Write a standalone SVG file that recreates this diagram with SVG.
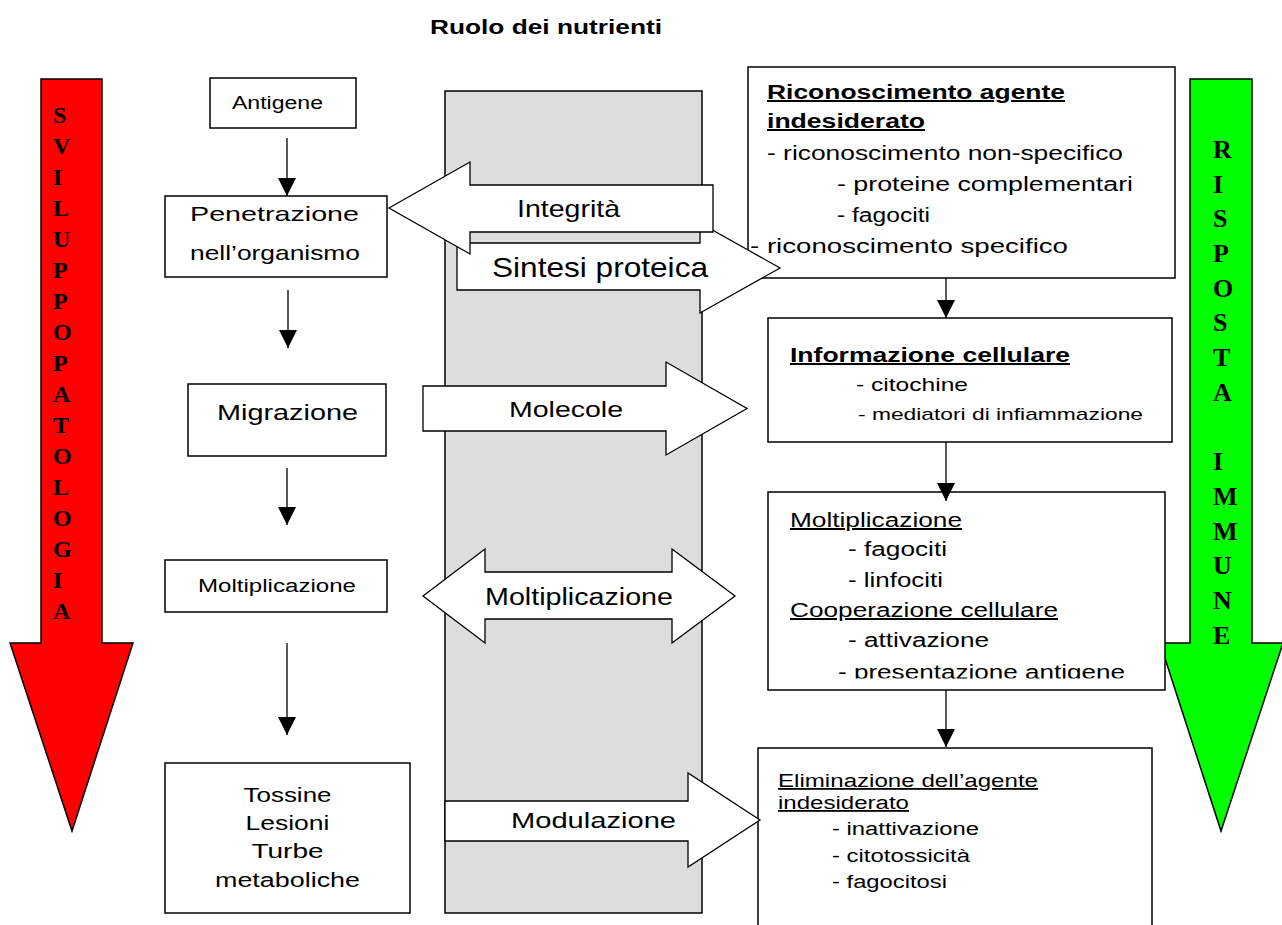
<svg xmlns="http://www.w3.org/2000/svg" width="1282" height="925" viewBox="0 0 1282 925">
<style>
.box{fill:#fff;stroke:#000;stroke-width:1.5}
.big{fill:#fff;stroke:#000;stroke-width:1.3}
.conn{fill:none;stroke:#000;stroke-width:1.3}
text{font-family:"Liberation Sans",Arial,sans-serif;fill:#000}
.b{font-weight:bold}
.u{text-decoration:underline}
.lt{font-family:"Liberation Serif","Times New Roman",serif;font-weight:bold;font-size:24px}
.rt{font-family:"Liberation Serif","Times New Roman",serif;font-weight:bold;font-size:26px}
</style>
<defs>
<marker id="ah" markerUnits="userSpaceOnUse" markerWidth="18" markerHeight="18" refX="18" refY="9" orient="auto">
<path d="M0,0 L18,9 L0,18 z" fill="#000"/>
</marker>
<clipPath id="c3"><rect x="768" y="492" width="397" height="186.5"/></clipPath>
</defs>
<rect width="1282" height="925" fill="#fff"/>
<text id="title" class="b" x="430" y="34" font-size="20" textLength="232" lengthAdjust="spacingAndGlyphs">Ruolo dei nutrienti</text>

<g id="sviluppo">
<polygon points="41,79 102,79 102,643 133,643 72,831 10,643 41,643" fill="#ff0000" stroke="#000" stroke-width="1.5"/>
<text class="lt" x="53" y="123">S</text><text class="lt" x="53" y="154">V</text><text class="lt" x="53" y="185">I</text><text class="lt" x="53" y="216">L</text><text class="lt" x="53" y="247">U</text><text class="lt" x="53" y="278">P</text><text class="lt" x="53" y="309">P</text><text class="lt" x="53" y="340">O</text><text class="lt" x="53" y="371">P</text><text class="lt" x="53" y="402">A</text><text class="lt" x="53" y="433">T</text><text class="lt" x="53" y="464">O</text><text class="lt" x="53" y="495">L</text><text class="lt" x="53" y="526">O</text><text class="lt" x="53" y="557">G</text><text class="lt" x="53" y="588">I</text><text class="lt" x="53" y="619">A</text>
</g>

<g id="risposta">
<polygon points="1190,79 1252,79 1252,643 1283,643 1221,831 1160,643 1190,643" fill="#00ff00" stroke="#000" stroke-width="1.5"/>
<text class="rt" x="1213" y="158">R</text><text class="rt" x="1213" y="193">I</text><text class="rt" x="1213" y="227">S</text><text class="rt" x="1213" y="262">P</text><text class="rt" x="1213" y="297">O</text><text class="rt" x="1213" y="331">S</text><text class="rt" x="1213" y="366">T</text><text class="rt" x="1213" y="401">A</text><text class="rt" x="1213" y="470">I</text><text class="rt" x="1213" y="505">M</text><text class="rt" x="1213" y="540">M</text><text class="rt" x="1213" y="574">U</text><text class="rt" x="1213" y="609">N</text><text class="rt" x="1213" y="644">E</text>
</g>

<g id="nutrienti"><rect x="445" y="91" width="257" height="822" fill="#dddddd" stroke="#000" stroke-width="1.5"/></g>

<g id="antigene"><rect class="box" x="210" y="78" width="146" height="50"/><text x="232" y="109" font-size="18" textLength="91" lengthAdjust="spacingAndGlyphs">Antigene</text></g>
<g id="penetrazione"><rect class="box" x="165" y="196" width="222" height="81"/><text x="190" y="221" font-size="21" textLength="169" lengthAdjust="spacingAndGlyphs">Penetrazione</text><text x="190" y="260" font-size="21" textLength="170" lengthAdjust="spacingAndGlyphs">nell’organismo</text></g>
<g id="migrazione"><rect class="box" x="188" y="384" width="198" height="72"/><text x="217" y="420" font-size="22" textLength="141" lengthAdjust="spacingAndGlyphs">Migrazione</text></g>
<g id="moltiplicazione-l"><rect class="box" x="165" y="560" width="222" height="52"/><text x="198" y="592" font-size="18" textLength="158" lengthAdjust="spacingAndGlyphs">Moltiplicazione</text></g>
<g id="tossine"><rect class="box" x="165" y="763" width="245" height="150"/>
<text x="287.5" y="802" font-size="20" text-anchor="middle" textLength="88" lengthAdjust="spacingAndGlyphs">Tossine</text>
<text x="287.5" y="830" font-size="20" text-anchor="middle" textLength="84" lengthAdjust="spacingAndGlyphs">Lesioni</text>
<text x="287.5" y="858" font-size="20" text-anchor="middle" textLength="72" lengthAdjust="spacingAndGlyphs">Turbe</text>
<text x="287.5" y="887" font-size="20" text-anchor="middle" textLength="145" lengthAdjust="spacingAndGlyphs">metaboliche</text></g>

<g id="riconoscimento-box"><rect class="box" x="748" y="67" width="427" height="211"/></g>

<g id="informazione"><rect class="box" x="768" y="318" width="404" height="124"/>
<text class="b u" x="790" y="362" font-size="20" textLength="280" lengthAdjust="spacingAndGlyphs">Informazione cellulare</text>
<text x="856" y="391" font-size="19" textLength="112" lengthAdjust="spacingAndGlyphs">- citochine</text>
<text x="858" y="420" font-size="17" textLength="285" lengthAdjust="spacingAndGlyphs">- mediatori di infiammazione</text></g>

<g id="moltiplicazione-r"><rect class="box" x="768" y="492" width="397" height="198"/>
<g font-size="20" clip-path="url(#c3)">
<text class="u" x="790" y="527" textLength="172" lengthAdjust="spacingAndGlyphs">Moltiplicazione</text>
<text x="848" y="556" textLength="99" lengthAdjust="spacingAndGlyphs">- fagociti</text>
<text x="848" y="587" textLength="95" lengthAdjust="spacingAndGlyphs">- linfociti</text>
<text class="u" x="790" y="617" textLength="268" lengthAdjust="spacingAndGlyphs">Cooperazione cellulare</text>
<text x="848" y="647" textLength="141" lengthAdjust="spacingAndGlyphs">- attivazione</text>
<text x="838" y="679" textLength="287" lengthAdjust="spacingAndGlyphs">- presentazione antigene</text>
</g></g>

<g id="eliminazione"><rect class="box" x="758" y="748" width="394" height="200"/>
<g font-size="18">
<text class="u" x="778" y="787" textLength="260" lengthAdjust="spacingAndGlyphs">Eliminazione dell’agente</text>
<text class="u" x="778" y="809" textLength="131" lengthAdjust="spacingAndGlyphs">indesiderato</text>
<text x="832" y="835" textLength="147" lengthAdjust="spacingAndGlyphs">- inattivazione</text>
<text x="832" y="862" textLength="138" lengthAdjust="spacingAndGlyphs">- citotossicità</text>
<text x="832" y="888" textLength="115" lengthAdjust="spacingAndGlyphs">- fagocitosi</text>
</g></g>

<g id="connectors">
<line class="conn" x1="287" y1="138" x2="287" y2="196" marker-end="url(#ah)"/>
<line class="conn" x1="288" y1="290" x2="288" y2="348" marker-end="url(#ah)"/>
<line class="conn" x1="287" y1="468" x2="287" y2="525" marker-end="url(#ah)"/>
<line class="conn" x1="287" y1="643" x2="287" y2="735" marker-end="url(#ah)"/>
<line class="conn" x1="946" y1="278" x2="946" y2="318" marker-end="url(#ah)"/>
<line class="conn" x1="946" y1="442" x2="946" y2="501" marker-end="url(#ah)"/>
<line class="conn" x1="946" y1="690" x2="946" y2="747" marker-end="url(#ah)"/>

<g id="sintesi"><polygon class="big" points="457,243 700,243 700,223 780,268 700,313 700,290 457,290"/>
<text x="492" y="277" font-size="28" textLength="216" lengthAdjust="spacingAndGlyphs">Sintesi proteica</text></g>
<g id="integrita"><polygon class="big" points="389,208 470,162 470,185 713,185 713,232 470,232 470,254"/>
<text x="517" y="217" font-size="24" textLength="103" lengthAdjust="spacingAndGlyphs">Integrità</text></g>
<g id="molecole"><polygon class="big" points="423,386 666,386 666,362 747,408.5 666,455 666,431 423,431"/>
<text x="509" y="417" font-size="22" textLength="114" lengthAdjust="spacingAndGlyphs">Molecole</text></g>
<g id="moltiplicazione-arrow"><polygon class="big" points="423,596 485,549 485,572 672,572 672,549 735,596 672,643 672,619 485,619 485,643"/>
<text x="485" y="605" font-size="23" textLength="188" lengthAdjust="spacingAndGlyphs">Moltiplicazione</text></g>
<g id="modulazione"><polygon class="big" points="445,801 688,801 688,773 760,820 688,867 688,841 445,841"/>
<text x="511" y="828" font-size="22" textLength="165" lengthAdjust="spacingAndGlyphs">Modulazione</text></g>
</g>

<g id="riconoscimento-text" font-size="20">
<text class="b u" x="767" y="99" textLength="298" lengthAdjust="spacingAndGlyphs">Riconoscimento agente</text>
<text class="b u" x="767" y="128" textLength="158" lengthAdjust="spacingAndGlyphs">indesiderato</text>
<text x="767" y="160" textLength="356" lengthAdjust="spacingAndGlyphs">- riconoscimento non-specifico</text>
<text x="837" y="191" textLength="296" lengthAdjust="spacingAndGlyphs">- proteine complementari</text>
<text x="837" y="222" textLength="93" lengthAdjust="spacingAndGlyphs">- fagociti</text>
<text x="750" y="253" textLength="318" lengthAdjust="spacingAndGlyphs">- riconoscimento specifico</text>
</g>
</svg>
